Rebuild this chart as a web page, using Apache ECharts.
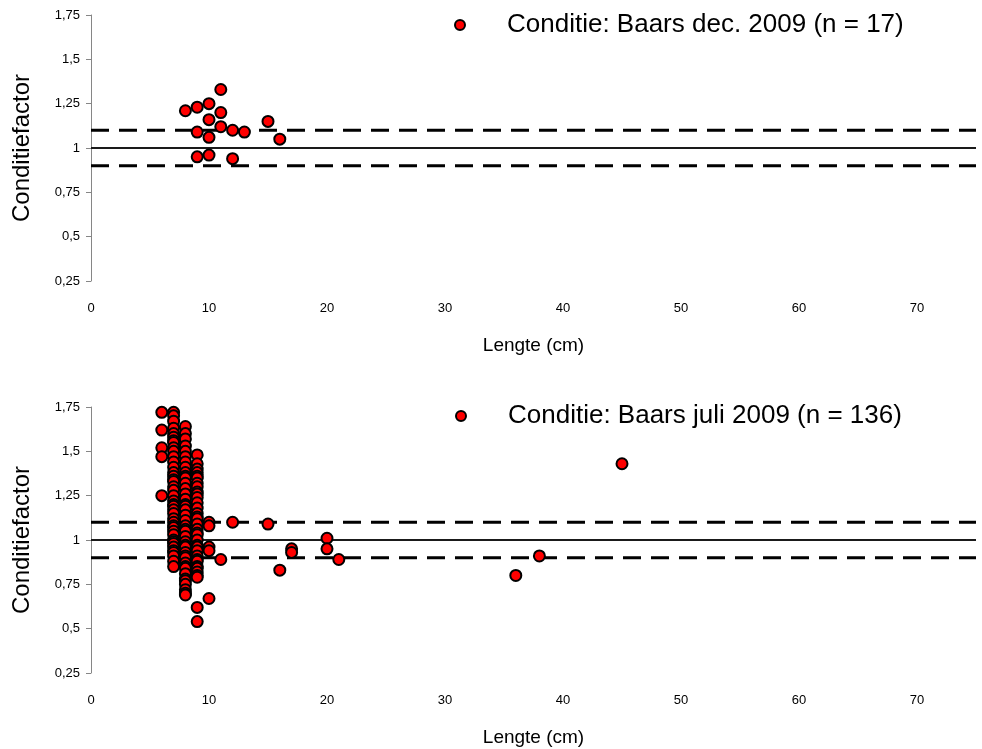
<!DOCTYPE html>
<html>
<head>
<meta charset="utf-8">
<script src="https://cdn.jsdelivr.net/npm/echarts@6/dist/echarts.min.js"></script>
<style>
  html, body { margin: 0; padding: 0; background: #ffffff; }
  #chart { width: 982px; height: 749px; }
</style>
</head>
<body>
<div id="chart"></div>
<script>
// Perch condition factor vs. length, December 2009 sample
const decLength = [8, 9, 9, 9, 10, 10, 10, 10, 11, 11, 11, 12, 12, 13, 15, 16];
const decFactor = [1.21, 1.23, 1.09, 0.95, 1.25, 1.16, 1.06, 0.96, 1.33, 1.20, 1.12, 1.10, 0.94, 1.09, 1.15, 1.05];

// July 2009 sample: the crowded length classes
const julFactorsAt7 = [1.72, 1.70, 1.67, 1.63, 1.60, 1.58, 1.56, 1.55, 1.52, 1.50, 1.47, 1.44, 1.41, 1.38,
  1.36, 1.34, 1.33, 1.30, 1.28, 1.25, 1.22, 1.20, 1.19, 1.17, 1.15, 1.12, 1.10, 1.08, 1.07, 1.05,
  1.03, 1.00, 0.99, 0.98, 0.96, 0.94, 0.93, 0.91, 0.88, 0.85];
const julFactorsAt8 = [1.64, 1.60, 1.57, 1.53, 1.50, 1.47, 1.44, 1.41, 1.38, 1.36, 1.35, 1.32, 1.29, 1.26,
  1.23, 1.20, 1.19, 1.17, 1.14, 1.11, 1.08, 1.06, 1.05, 1.02, 0.99, 0.97, 0.96, 0.93, 0.91, 0.90,
  0.87, 0.85, 0.84, 0.81, 0.78, 0.77, 0.75, 0.72, 0.70, 0.69];
const julFactorsAt9 = [1.48, 1.43, 1.40, 1.38, 1.36, 1.35, 1.32, 1.30, 1.27, 1.26, 1.24, 1.21, 1.18, 1.15,
  1.13, 1.12, 1.09, 1.06, 1.04, 1.03, 1.00, 0.97, 0.96, 0.94, 0.91, 0.89, 0.88, 0.85, 0.84, 0.82,
  0.80, 0.79, 0.62, 0.54];

// July 2009 sample: the remaining fish
const julLength = [6, 6, 6, 6, 6, 10, 10, 10, 10, 10, 11, 12, 15, 16, 17, 17, 20, 20, 21, 36, 38, 45];
const julFactor = [1.72, 1.62, 1.52, 1.47, 1.25, 1.10, 1.08, 0.96, 0.94, 0.67, 0.89, 1.10, 1.09, 0.83,
  0.95, 0.93, 1.01, 0.95, 0.89, 0.80, 0.91, 1.43];

// Reference levels for the condition factor
const refSolid = 1.0;
const refDashed = [1.1, 0.9];

const yTicks = ['0,25', '0,5', '0,75', '1', '1,25', '1,5', '1,75'];
const decName = 'Conditie: Baars dec. 2009 (n = 17)';
const julName = 'Conditie: Baars juli 2009 (n = 136)';

const FONT = '"Liberation Sans", Arial, sans-serif';

function pairs(xs, ys) { return xs.map((x, i) => [x, ys[i]]); }
function column(x, ys) { return ys.map(y => [x, y]); }

const decData = pairs(decLength, decFactor);
const julData = pairs(julLength, julFactor)
  .concat(column(7, julFactorsAt7))
  .concat(column(8, julFactorsAt8))
  .concat(column(9, julFactorsAt9));

function xAxisFor(gi) {
  return {
    gridIndex: gi, type: 'value', min: 0, max: 75, interval: 10,
    name: 'Lengte (cm)', nameLocation: 'middle', nameGap: 55,
    nameTextStyle: { fontFamily: FONT, fontSize: 19, color: '#000' },
    axisLine: { show: false }, axisTick: { show: false }, splitLine: { show: false },
    axisLabel: { fontFamily: FONT, fontSize: 13, color: '#000', margin: 21, showMaxLabel: false }
  };
}
function yAxisFor(gi) {
  return {
    gridIndex: gi, type: 'value', min: 0.25, max: 1.75, interval: 0.25,
    name: 'Conditiefactor', nameLocation: 'middle', nameGap: 57,
    nameTextStyle: { fontFamily: FONT, fontSize: 24, color: '#000' },
    axisLine: { show: true, lineStyle: { color: '#868686', width: 1 } },
    axisTick: { show: true, inside: false, length: 5, lineStyle: { color: '#868686' } },
    splitLine: { show: false },
    axisLabel: {
      fontFamily: FONT, fontSize: 13, color: '#000', margin: 11,
      formatter: v => yTicks[Math.round((v - 0.25) / 0.25)]
    }
  };
}
function refLines(gi) {
  const out = [{
    type: 'line', xAxisIndex: gi, yAxisIndex: gi, silent: true, symbol: 'none', z: 1,
    data: [[0, refSolid], [75, refSolid]],
    lineStyle: { color: '#1a1a1a', width: 2, type: 'solid' }
  }];
  refDashed.forEach(v => out.push({
    type: 'line', xAxisIndex: gi, yAxisIndex: gi, silent: true, symbol: 'none', z: 1,
    data: [[0, v], [75, v]],
    lineStyle: { color: '#000', width: 3, type: [18, 10] }
  }));
  return out;
}
const markerStyle = { color: '#ff0000', borderColor: '#000', borderWidth: 2, opacity: 1 };

const chart = echarts.init(document.getElementById('chart'), null, { renderer: 'canvas' });
chart.setOption({
  backgroundColor: '#ffffff',
  animation: false,
  grid: [
    { left: 91, right: 6, top: 15, height: 266 },
    { left: 91, right: 6, top: 407, height: 266 }
  ],
  legend: [
    { data: [decName], left: 449, top: 7, itemWidth: 84, itemHeight: 10, symbolKeepAspect: true,
      textStyle: { fontFamily: FONT, fontSize: 26, color: '#000' } },
    { data: [julName], left: 450, top: 398, itemWidth: 84, itemHeight: 10, symbolKeepAspect: true,
      textStyle: { fontFamily: FONT, fontSize: 26, color: '#000' } }
  ],
  xAxis: [xAxisFor(0), xAxisFor(1)],
  yAxis: [yAxisFor(0), yAxisFor(1)],
  series: refLines(0).concat(refLines(1)).concat([
    { name: decName, type: 'scatter', xAxisIndex: 0, yAxisIndex: 0, z: 3,
      symbol: 'circle', symbolSize: 11, itemStyle: markerStyle, data: decData },
    { name: julName, type: 'scatter', xAxisIndex: 1, yAxisIndex: 1, z: 3,
      symbol: 'circle', symbolSize: 11, itemStyle: markerStyle, data: julData }
  ])
});
</script>
</body>
</html>
